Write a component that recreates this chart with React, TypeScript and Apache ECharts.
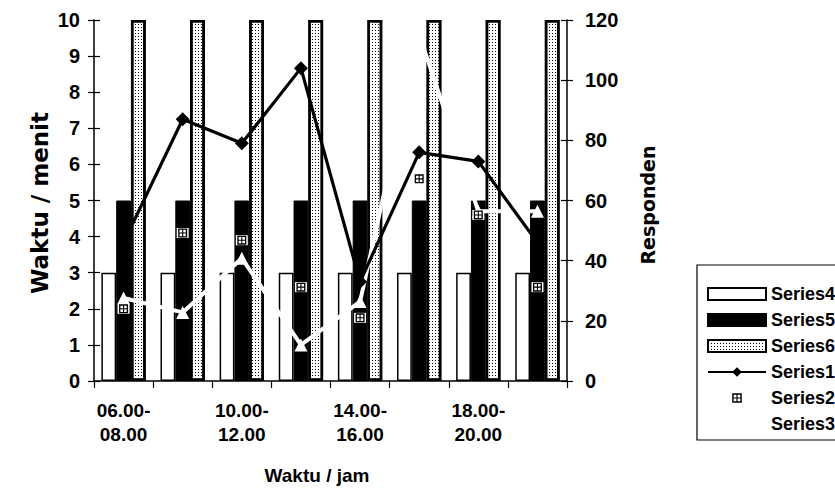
import React, { useEffect, useRef } from "react";
import * as echarts from "echarts";

const categories = [
  "06.00-\n08.00",
  "08.00-\n10.00",
  "10.00-\n12.00",
  "12.00-\n14.00",
  "14.00-\n16.00",
  "16.00-\n18.00",
  "18.00-\n20.00",
  "20.00-\n22.00",
];
const series4 = [3, 3, 3, 3, 3, 3, 3, 3];
const series5 = [5, 5, 5, 5, 5, 5, 5, 5];
const series6 = [10, 10, 10, 10, 10, 10, 10, 10];
const series1 = [46, 87, 79, 104, 33, 76, 73, 46];
const series2 = [2.0, 4.1, 3.9, 2.6, 1.75, 5.6, 4.6, 2.6];
const series3 = [2.3, 1.9, 3.4, 1.0, 2.2, 9.6, 4.7, 4.7];
const leftTicks = { min: 0, max: 10, interval: 1 };
const rightTicks = { min: 0, max: 120, interval: 20 };

const FONT = "'Liberation Sans', Arial, sans-serif";
const TITLE_FONT = "'DejaVu Sans', 'Liberation Sans', sans-serif";
const PATTERN =
  "path://M0,0H10V10H0Z M1.5,1.5V8.5H8.5V1.5Z M4.4,1.5H5.6V8.5H4.4Z M1.5,4.4H8.5V5.6H1.5Z";

export default function App() {
  const ref = useRef<HTMLDivElement>(null);
  useEffect(() => {
    if (!ref.current) return;
    const chart = echarts.init(ref.current, null, { renderer: "svg" });
    const tickLabel = {
      color: "#000",
      fontFamily: FONT,
      fontWeight: "bold" as const,
      fontSize: 20,
    };
    const axisLine = { show: true, lineStyle: { color: "#000", width: 1.5 } };
    chart.setOption({
      animation: false,
      backgroundColor: "#fff",
      grid: { left: 94, right: 268, top: 20, bottom: 112 },
      legend: {
        orient: "vertical",
        left: 697,
        top: 265,
        padding: [20, 8, 7, 10],
        itemWidth: 58,
        itemHeight: 12,
        itemGap: 8,
        borderColor: "#000",
        borderWidth: 1.2,
        align: "left",
        selectedMode: false,
        textStyle: {
          color: "#000",
          fontFamily: FONT,
          fontWeight: "bold",
          fontSize: 18,
          lineHeight: 18,
        },
        data: [
          { name: "Series4", icon: "rect" },
          { name: "Series5", icon: "rect" },
          { name: "Series6", icon: "rect" },
          { name: "Series1" },
          { name: "Series2" },
          { name: "Series3" },
        ],
      },
      xAxis: {
        type: "category",
        data: categories,
        boundaryGap: true,
        axisLine,
        axisTick: {
          show: true,
          interval: 0,
          length: 7,
          lineStyle: { color: "#000", width: 1.2 },
        },
        axisLabel: {
          ...tickLabel,
          fontSize: 19,
          lineHeight: 24,
          margin: 17,
          interval: 1,
        },
        splitLine: { show: false },
      },
      yAxis: [
        {
          type: "value",
          position: "left",
          ...leftTicks,
          axisLine,
          axisTick: { show: true, length: 6, lineStyle: { color: "#000", width: 1.2 } },
          axisLabel: { ...tickLabel, margin: 14 },
          splitLine: { show: false },
        },
        {
          type: "value",
          position: "right",
          ...rightTicks,
          axisLine,
          axisTick: { show: true, length: 6, lineStyle: { color: "#000", width: 1.2 } },
          axisLabel: { ...tickLabel, margin: 18 },
          splitLine: { show: false },
        },
        {
          type: "value",
          position: "left",
          ...leftTicks,
          axisLine: { show: false },
          axisTick: { show: true, inside: true, length: 6, lineStyle: { color: "#000", width: 1.2 } },
          axisLabel: { show: false },
          splitLine: { show: false },
        },
        {
          type: "value",
          position: "right",
          ...rightTicks,
          axisLine: { show: false },
          axisTick: { show: true, inside: true, length: 6, lineStyle: { color: "#000", width: 1.2 } },
          axisLabel: { show: false },
          splitLine: { show: false },
        },
      ],
      graphic: [
        {
          type: "text",
          x: 40,
          y: 203,
          rotation: Math.PI / 2,
          style: {
            text: "Waktu / menit",
            fill: "#000",
            font: `bold 23px ${TITLE_FONT}`,
            align: "center",
            verticalAlign: "middle",
          },
        },
        {
          type: "text",
          x: 648,
          y: 205,
          rotation: Math.PI / 2,
          style: {
            text: "Responden",
            fill: "#000",
            font: `bold 19px ${TITLE_FONT}`,
            align: "center",
            verticalAlign: "middle",
          },
        },
        {
          type: "text",
          x: 317,
          y: 475,
          style: {
            text: "Waktu / jam",
            fill: "#000",
            font: `bold 19px ${FONT}`,
            align: "center",
            verticalAlign: "middle",
          },
        },
      ],
      series: [
        {
          name: "Series4",
          type: "bar",
          yAxisIndex: 0,
          data: series4,
          barGap: "0%",
          barCategoryGap: "25%",
          itemStyle: { color: "#fff", borderColor: "#000", borderWidth: 1.5 },
        },
        {
          name: "Series5",
          type: "bar",
          yAxisIndex: 0,
          data: series5,
          itemStyle: { color: "#000", borderColor: "#000", borderWidth: 1 },
        },
        {
          name: "Series6",
          type: "bar",
          yAxisIndex: 0,
          data: series6,
          itemStyle: {
            color: "#fff",
            borderColor: "#000",
            borderWidth: 2.5,
            decal: {
              symbol: "rect",
              symbolSize: 1,
              color: "#000",
              dashArrayX: [1, 2],
              dashArrayY: [1, 2],
              rotation: 0,
            },
          },
        },
        {
          name: "Series1",
          type: "line",
          yAxisIndex: 1,
          data: series1,
          symbol: "diamond",
          symbolSize: 14,
          itemStyle: { color: "#000" },
          lineStyle: { color: "#000", width: 3.2 },
          z: 4,
        },
        {
          name: "Series2bg",
          type: "line",
          yAxisIndex: 0,
          data: series2,
          symbol: "rect",
          symbolSize: [12, 10],
          itemStyle: { color: "#fff" },
          lineStyle: { width: 0, opacity: 0 },
          z: 5,
        },
        {
          name: "Series2",
          type: "line",
          yAxisIndex: 0,
          data: series2,
          symbol: PATTERN,
          symbolSize: 9,
          itemStyle: { color: "#000" },
          lineStyle: { width: 0, opacity: 0 },
          z: 6,
        },
        {
          name: "Series3",
          type: "line",
          yAxisIndex: 0,
          data: series3,
          symbol: "triangle",
          symbolSize: 13,
          itemStyle: { color: "#fff" },
          lineStyle: { color: "#fff", width: 4 },
          z: 3,
        },
      ],
    });
    return () => chart.dispose();
  }, []);
  return (
    <div
      ref={ref}
      style={{ position: "fixed", left: 0, top: 0, width: 835, height: 493, background: "#fff" }}
    />
  );
}
